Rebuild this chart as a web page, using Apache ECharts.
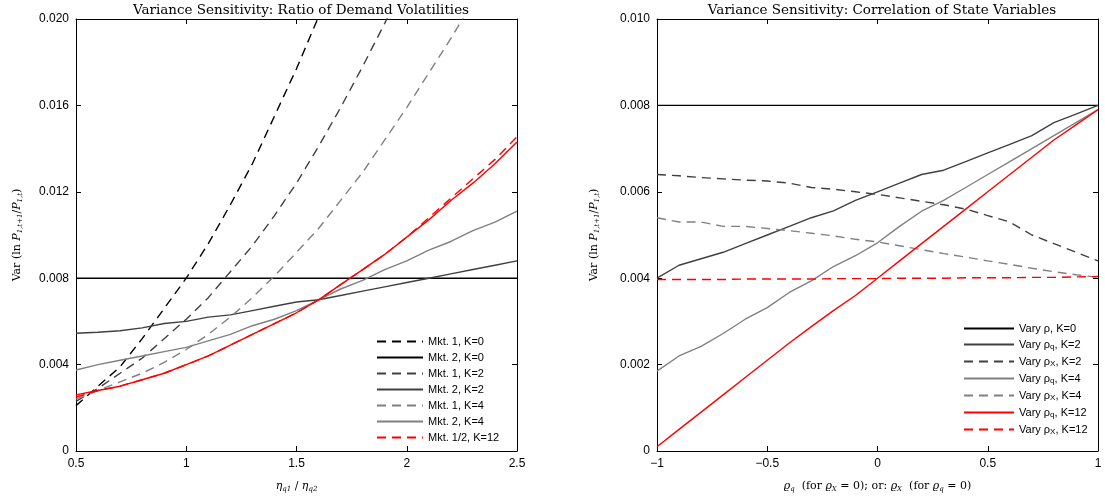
<!DOCTYPE html>
<html>
<head>
<meta charset="utf-8">
<script src="https://cdn.jsdelivr.net/npm/echarts@6/dist/echarts.min.js"></script>
<style>
  html, body { margin: 0; padding: 0; background: #fff; }
  #chart { width: 1105px; height: 499px; }
</style>
</head>
<body>
<div id="chart"></div>
<script>
// 左图：需求波动率之比
const etaRatio = [0.5, 0.6, 0.7, 0.8, 0.9, 1.0, 1.1, 1.2, 1.3, 1.4, 1.5, 1.6, 1.7, 1.8, 1.9, 2.0, 2.1, 2.2, 2.3, 2.4, 2.5]
const mkt1K0 = [0.0021, 0.0030, 0.0039, 0.0052, 0.0066, 0.0080, 0.0096, 0.0114, 0.0133, 0.0155, 0.0177, 0.0201]
const mkt2K0 = [0.008, 0.008, 0.008, 0.008, 0.008, 0.008, 0.008, 0.008, 0.008, 0.008, 0.008, 0.008, 0.008, 0.008, 0.008, 0.008, 0.008, 0.008, 0.008, 0.008, 0.008]
const mkt1K2 = [0.0023, 0.0029, 0.0036, 0.0043, 0.0052, 0.0061, 0.0071, 0.0083, 0.0095, 0.0109, 0.0124, 0.0141, 0.0159, 0.0178, 0.0198, 0.0219]
const mkt2K2 = [0.00545, 0.0055, 0.00557, 0.0057, 0.0059, 0.0060, 0.0062, 0.0063, 0.0065, 0.0067, 0.0069, 0.0070, 0.0072, 0.0074, 0.0076, 0.0078, 0.0080, 0.0082, 0.0084, 0.0086, 0.0088]
const mkt1K4 = [0.0024, 0.0028, 0.0032, 0.0036, 0.0041, 0.0047, 0.0054, 0.0062, 0.0071, 0.0081, 0.0092, 0.0103, 0.0116, 0.0129, 0.0144, 0.0159, 0.0175, 0.0191, 0.0208]
const mkt2K4 = [0.00375, 0.0040, 0.0042, 0.0044, 0.0046, 0.0048, 0.0051, 0.0054, 0.0058, 0.0061, 0.0065, 0.0070, 0.0075, 0.0079, 0.0084, 0.0088, 0.0093, 0.0097, 0.0102, 0.0106, 0.0111]
const mktK12Dash = [0.0025, 0.0028, 0.0030, 0.0033, 0.0036, 0.0040, 0.0044, 0.0049, 0.0054, 0.0059, 0.0064, 0.0070, 0.0077, 0.0084, 0.0091, 0.0099, 0.0108, 0.0117, 0.0126, 0.0135, 0.01455]
const mktK12Solid = [0.0026, 0.0028, 0.0030, 0.0033, 0.0036, 0.0040, 0.0044, 0.0049, 0.0054, 0.0059, 0.0064, 0.0070, 0.0077, 0.0084, 0.0091, 0.0099, 0.0107, 0.0116, 0.0124, 0.0133, 0.0143]

// 右图：状态变量相关系数
const rho = [-1, -0.9, -0.8, -0.7, -0.6, -0.5, -0.4, -0.3, -0.2, -0.1, 0, 0.1, 0.2, 0.3, 0.4, 0.5, 0.6, 0.7, 0.8, 0.9, 1]
const varyRhoK0 = [0.008, 0.008, 0.008, 0.008, 0.008, 0.008, 0.008, 0.008, 0.008, 0.008, 0.008, 0.008, 0.008, 0.008, 0.008, 0.008, 0.008, 0.008, 0.008, 0.008, 0.008]
const rhoQK2 = [0.0040, 0.0043, 0.00445, 0.0046, 0.0048, 0.0050, 0.0052, 0.0054, 0.00556, 0.0058, 0.0060, 0.0062, 0.0064, 0.0065, 0.0067, 0.0069, 0.0071, 0.0073, 0.0076, 0.0078, 0.0080]
const rhoXK2 = [0.0064, 0.00637, 0.00633, 0.0063, 0.00627, 0.00625, 0.0062, 0.0061, 0.00606, 0.0060, 0.00594, 0.00586, 0.00578, 0.0057, 0.0056, 0.00545, 0.0053, 0.0050, 0.0048, 0.0046, 0.0044]
const rhoQK4 = [0.00185, 0.0022, 0.00242, 0.00272, 0.00305, 0.00332, 0.00367, 0.00394, 0.00427, 0.00452, 0.00482, 0.0052, 0.00555, 0.0058, 0.0061, 0.0064, 0.0067, 0.0070, 0.0073, 0.0076, 0.0079]
const rhoXK4 = [0.0054, 0.0053, 0.0053, 0.0052, 0.0052, 0.00515, 0.0051, 0.00504, 0.00498, 0.0049, 0.00484, 0.00475, 0.00466, 0.00457, 0.00449, 0.0044, 0.00432, 0.00423, 0.00415, 0.00408, 0.00402]
const rhoQK12 = [0.0001, 0.0005, 0.0009, 0.0013, 0.0017, 0.0021, 0.0025, 0.00288, 0.00325, 0.0036, 0.0040, 0.0044, 0.0048, 0.0052, 0.0056, 0.0060, 0.0064, 0.0068, 0.0072, 0.00755, 0.0079]
const rhoXK12 = [0.00397, 0.00397, 0.00397, 0.00397, 0.00398, 0.00398, 0.00398, 0.00398, 0.00399, 0.00399, 0.00399, 0.004, 0.004, 0.004, 0.00401, 0.00401, 0.00401, 0.00402, 0.00402, 0.00403, 0.00404]

const chart = echarts.init(document.getElementById('chart'))

const BLACK = '#000000'
const DARK = '#404040'
const GRAY = '#808080'
const RED = '#ff0000'
const DASH = [9, 6]

const pairs = (xs, ys) => ys.map((y, i) => [xs[i], y])

const mk = (name, xIdx, yIdx, xs, ys, color, dashed) => ({
  name: name,
  type: 'line',
  xAxisIndex: xIdx,
  yAxisIndex: yIdx,
  data: pairs(xs, ys),
  symbol: 'none',
  clip: true,
  lineStyle: { color: color, width: 1.4, type: dashed ? DASH : 'solid' },
  itemStyle: { color: color },
  emphasis: { disabled: true },
})

const tickFont = { fontFamily: 'Liberation Sans', fontSize: 12, color: '#000' }
const serif = 'DejaVu Serif'
const subRich = {
  n: { fontFamily: serif, fontSize: 11, color: '#000' },
  i: { fontFamily: serif, fontSize: 11, fontStyle: 'italic', color: '#000' },
  s: { fontFamily: serif, fontSize: 7, fontStyle: 'italic', color: '#000', verticalAlign: 'bottom', padding: [6, 0, 0, 0] },
}

const boxAxis = (gridIndex, pos, min, max, interval) => ({
  type: 'value',
  gridIndex: gridIndex,
  position: pos,
  min: min,
  max: max,
  interval: interval,
  axisLine: { show: true, onZero: false, lineStyle: { color: '#000', width: 1 } },
  axisTick: { show: true, inside: true, length: 5, lineStyle: { color: '#000' } },
  axisLabel: { show: false },
  splitLine: { show: false },
})

const yName = '{n|Var (ln }{i|P}{s|1,t+1}{n|/}{i|P}{s|1,t}{n|)}'

const legendRich = {
  t: { fontFamily: 'Liberation Sans', fontSize: 11, color: '#000' },
  sb: { fontFamily: 'Liberation Sans', fontSize: 8, color: '#000', verticalAlign: 'bottom', padding: [5, 0, 0, 0] },
}
const rightLegendLabels = {
  'Vary ρ, K=0': '{t|Vary ρ, K=0}',
  'Vary ρq, K=2': '{t|Vary ρ}{sb|q}{t|, K=2}',
  'Vary ρX, K=2': '{t|Vary ρ}{sb|X}{t|, K=2}',
  'Vary ρq, K=4': '{t|Vary ρ}{sb|q}{t|, K=4}',
  'Vary ρX, K=4': '{t|Vary ρ}{sb|X}{t|, K=4}',
  'Vary ρq, K=12': '{t|Vary ρ}{sb|q}{t|, K=12}',
  'Vary ρX, K=12': '{t|Vary ρ}{sb|X}{t|, K=12}',
}

const option = {
  animation: false,
  backgroundColor: '#fff',
  title: [
    { text: 'Variance Sensitivity: Ratio of Demand Volatilities', left: 296, top: -2, textAlign: 'center',
      textStyle: { fontFamily: serif, fontSize: 13.5, fontWeight: 'normal', color: '#000' } },
    { text: 'Variance Sensitivity: Correlation of State Variables', left: 877, top: -2, textAlign: 'center',
      textStyle: { fontFamily: serif, fontSize: 13.5, fontWeight: 'normal', color: '#000' } },
  ],
  grid: [
    { left: 76, top: 19, width: 441, height: 432 },
    { left: 657, top: 19, width: 441, height: 432 },
  ],
  legend: [
    {
      orient: 'vertical', left: 371, top: 331, itemWidth: 46, itemHeight: 12, itemGap: 5,
      itemStyle: { opacity: 0 },
      textStyle: { fontFamily: 'Liberation Sans', fontSize: 11, color: '#000' },
      data: ['Mkt. 1, K=0', 'Mkt. 2, K=0', 'Mkt. 1, K=2', 'Mkt. 2, K=2', 'Mkt. 1, K=4', 'Mkt. 2, K=4', 'Mkt. 1/2, K=12'],
    },
    {
      orient: 'vertical', left: 958, top: 318, itemWidth: 50, itemHeight: 12, itemGap: 5,
      itemStyle: { opacity: 0 },
      textStyle: { rich: legendRich },
      formatter: (name) => rightLegendLabels[name],
      data: ['Vary ρ, K=0', 'Vary ρq, K=2', 'Vary ρX, K=2', 'Vary ρq, K=4', 'Vary ρX, K=4', 'Vary ρq, K=12', 'Vary ρX, K=12'],
    },
  ],
  xAxis: [
    Object.assign(boxAxis(0, 'bottom', 0.5, 2.5, 0.5), {
      axisLabel: Object.assign({ show: true, margin: 7 }, tickFont),
      name: '{i|η}{s|q1}{n| / }{i|η}{s|q2}',
      nameLocation: 'middle', nameGap: 29,
      nameTextStyle: { rich: subRich },
    }),
    boxAxis(0, 'top', 0.5, 2.5, 0.5),
    Object.assign(boxAxis(1, 'bottom', -1, 1, 0.5), {
      axisLabel: Object.assign({ show: true, margin: 7, formatter: (v) => String(v).replace('-', '\u2212') }, tickFont),
      name: '{i|ϱ}{s|q}{n|  (for }{i|ϱ}{s|X}{n| = 0); or: }{i|ϱ}{s|X}{n|  (for }{i|ϱ}{s|q}{n| = 0)}',
      nameLocation: 'middle', nameGap: 29,
      nameTextStyle: { rich: subRich },
    }),
    boxAxis(1, 'top', -1, 1, 0.5),
  ],
  yAxis: [
    Object.assign(boxAxis(0, 'left', 0, 0.02, 0.004), {
      axisLabel: Object.assign({ show: true, margin: 7, formatter: (v) => (v === 0 ? '0' : v.toFixed(3)) }, tickFont),
      name: yName, nameLocation: 'middle', nameGap: 52, nameRotate: 90,
      nameTextStyle: { rich: subRich },
    }),
    boxAxis(0, 'right', 0, 0.02, 0.004),
    Object.assign(boxAxis(1, 'left', 0, 0.01, 0.002), {
      axisLabel: Object.assign({ show: true, margin: 7, formatter: (v) => (v === 0 ? '0' : v.toFixed(3)) }, tickFont),
      name: yName, nameLocation: 'middle', nameGap: 56, nameRotate: 90,
      nameTextStyle: { rich: subRich },
    }),
    boxAxis(1, 'right', 0, 0.01, 0.002),
  ],
  series: [
    mk('Mkt. 1, K=0', 0, 0, etaRatio, mkt1K0, BLACK, true),
    mk('Mkt. 2, K=0', 0, 0, etaRatio, mkt2K0, BLACK, false),
    mk('Mkt. 1, K=2', 0, 0, etaRatio, mkt1K2, DARK, true),
    mk('Mkt. 2, K=2', 0, 0, etaRatio, mkt2K2, DARK, false),
    mk('Mkt. 1, K=4', 0, 0, etaRatio, mkt1K4, GRAY, true),
    mk('Mkt. 2, K=4', 0, 0, etaRatio, mkt2K4, GRAY, false),
    mk('Mkt. 1/2, K=12', 0, 0, etaRatio, mktK12Dash, RED, true),
    mk('Mkt. 1/2, K=12 (solid)', 0, 0, etaRatio, mktK12Solid, RED, false),

    mk('Vary ρ, K=0', 2, 2, rho, varyRhoK0, BLACK, false),
    mk('Vary ρq, K=2', 2, 2, rho, rhoQK2, DARK, false),
    mk('Vary ρX, K=2', 2, 2, rho, rhoXK2, DARK, true),
    mk('Vary ρq, K=4', 2, 2, rho, rhoQK4, GRAY, false),
    mk('Vary ρX, K=4', 2, 2, rho, rhoXK4, GRAY, true),
    mk('Vary ρq, K=12', 2, 2, rho, rhoQK12, RED, false),
    mk('Vary ρX, K=12', 2, 2, rho, rhoXK12, RED, true),
  ],
}

chart.setOption(option)
</script>
</body>
</html>
